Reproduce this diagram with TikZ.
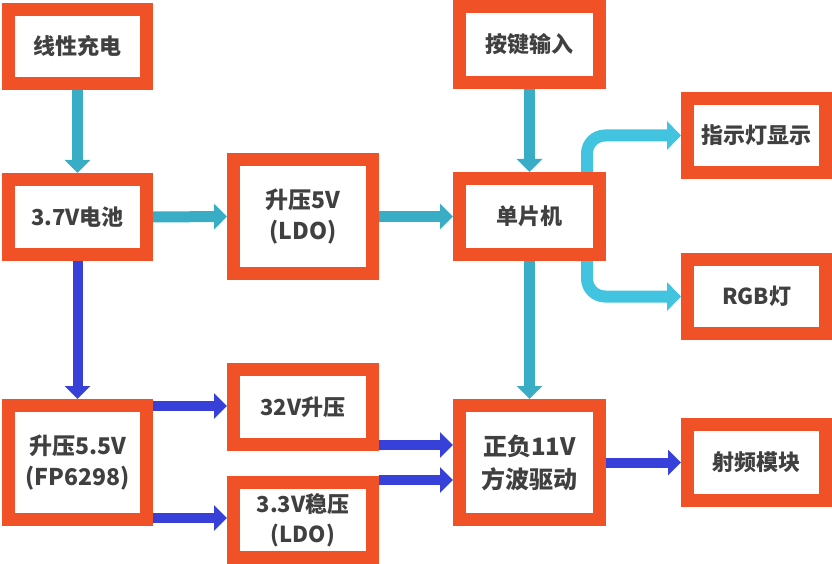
\documentclass[tikz,border=0pt]{standalone}
\usepackage{fontspec}
\setmainfont{Noto Sans CJK SC}
\usetikzlibrary{arrows.meta}
\definecolor{boxorange}{HTML}{F15127}
\definecolor{txt}{HTML}{404040}
\definecolor{teal}{HTML}{3AADC6}
\definecolor{cyanarr}{HTML}{42C3E0}
\definecolor{bluearr}{HTML}{3741DA}
\tikzset{
  blk/.style={draw=boxorange, line width=13pt, fill=white, inner sep=0pt,
    align=center, text=txt, font=\bfseries\fontsize{22}{30}\selectfont},
  bigtxt/.style={font=\bfseries\fontsize{23}{31}\selectfont},
  tealarr/.style={draw=teal, line width=11pt, -{Triangle[width=25pt,length=13pt]}},
  bluearrow/.style={draw=bluearr, line width=10pt, -{Triangle[width=25pt,length=13pt]}},
  cyanarrow/.style={draw=cyanarr, line width=12pt, rounded corners=18pt, -{Triangle[width=28pt,length=14pt]}}
}
\begin{document}
\begin{tikzpicture}[x=1pt,y=-1pt]
\useasboundingbox (0,0) rectangle (832,564);
\node[blk, minimum width=138, minimum height=74] (chg) at (77.5,46.5) {线性充电};
\node[blk, minimum width=138, minimum height=75] (bat) at (77.5,217) {3.7V电池};
\node[blk, bigtxt, minimum width=139, minimum height=114] (ldo5) at (303,216.5) {升压5V\\(LDO)};
\node[blk, minimum width=140, minimum height=76] (key) at (529.5,44.5) {按键输入};
\node[blk, minimum width=140, minimum height=76] (mcu) at (529.5,216.5) {单片机};
\node[blk, minimum width=138, minimum height=74] (ind) at (756.5,135.5) {指示灯显示};
\node[blk, minimum width=138, minimum height=74] (rgb) at (756.5,296.5) {RGB灯};
\node[blk, bigtxt, minimum width=138, minimum height=114] (b55) at (77.5,462.5) {升压5.5V\\(FP6298)};
\node[blk, minimum width=139, minimum height=75] (v32) at (303,407) {32V升压};
\node[blk, minimum width=139, minimum height=75] (v33) at (303,520) {3.3V稳压\\(LDO)};
\node[blk, font=\bfseries\fontsize{24}{33}\selectfont, minimum width=140, minimum height=114] (pm11) at (529.5,462.5) {正负11V\\方波驱动};
\node[blk, minimum width=138, minimum height=76] (rf) at (756.5,462.5) {射频模块};

\draw[tealarr] (chg.south) -- (bat.north);
\draw[tealarr] (bat.east) -- (ldo5.west);
\draw[tealarr] (ldo5.east |- mcu.west) -- (mcu.west);
\draw[tealarr] (key.south) -- (mcu.north);
\draw[tealarr] (mcu.south) -- (pm11.north);
\coordinate (mt) at (587,172);
\coordinate (mb) at (587,261);
\draw[cyanarrow] (mt) |- (ind.west);
\draw[cyanarrow] (mb) |- (rgb.west);

\draw[bluearrow] (bat.south) -- (b55.north);
\draw[bluearrow] (b55.east |- 0,406) -- (v32.west |- 0,406);
\draw[bluearrow] (b55.east |- 0,518) -- (v33.west |- 0,518);
\draw[bluearrow] (v32.east |- 0,445) -- (pm11.west |- 0,445);
\draw[bluearrow] (v33.east |- 0,480) -- (pm11.west |- 0,480);
\draw[bluearrow] (pm11.east) -- (rf.west);
\end{tikzpicture}
\end{document}
